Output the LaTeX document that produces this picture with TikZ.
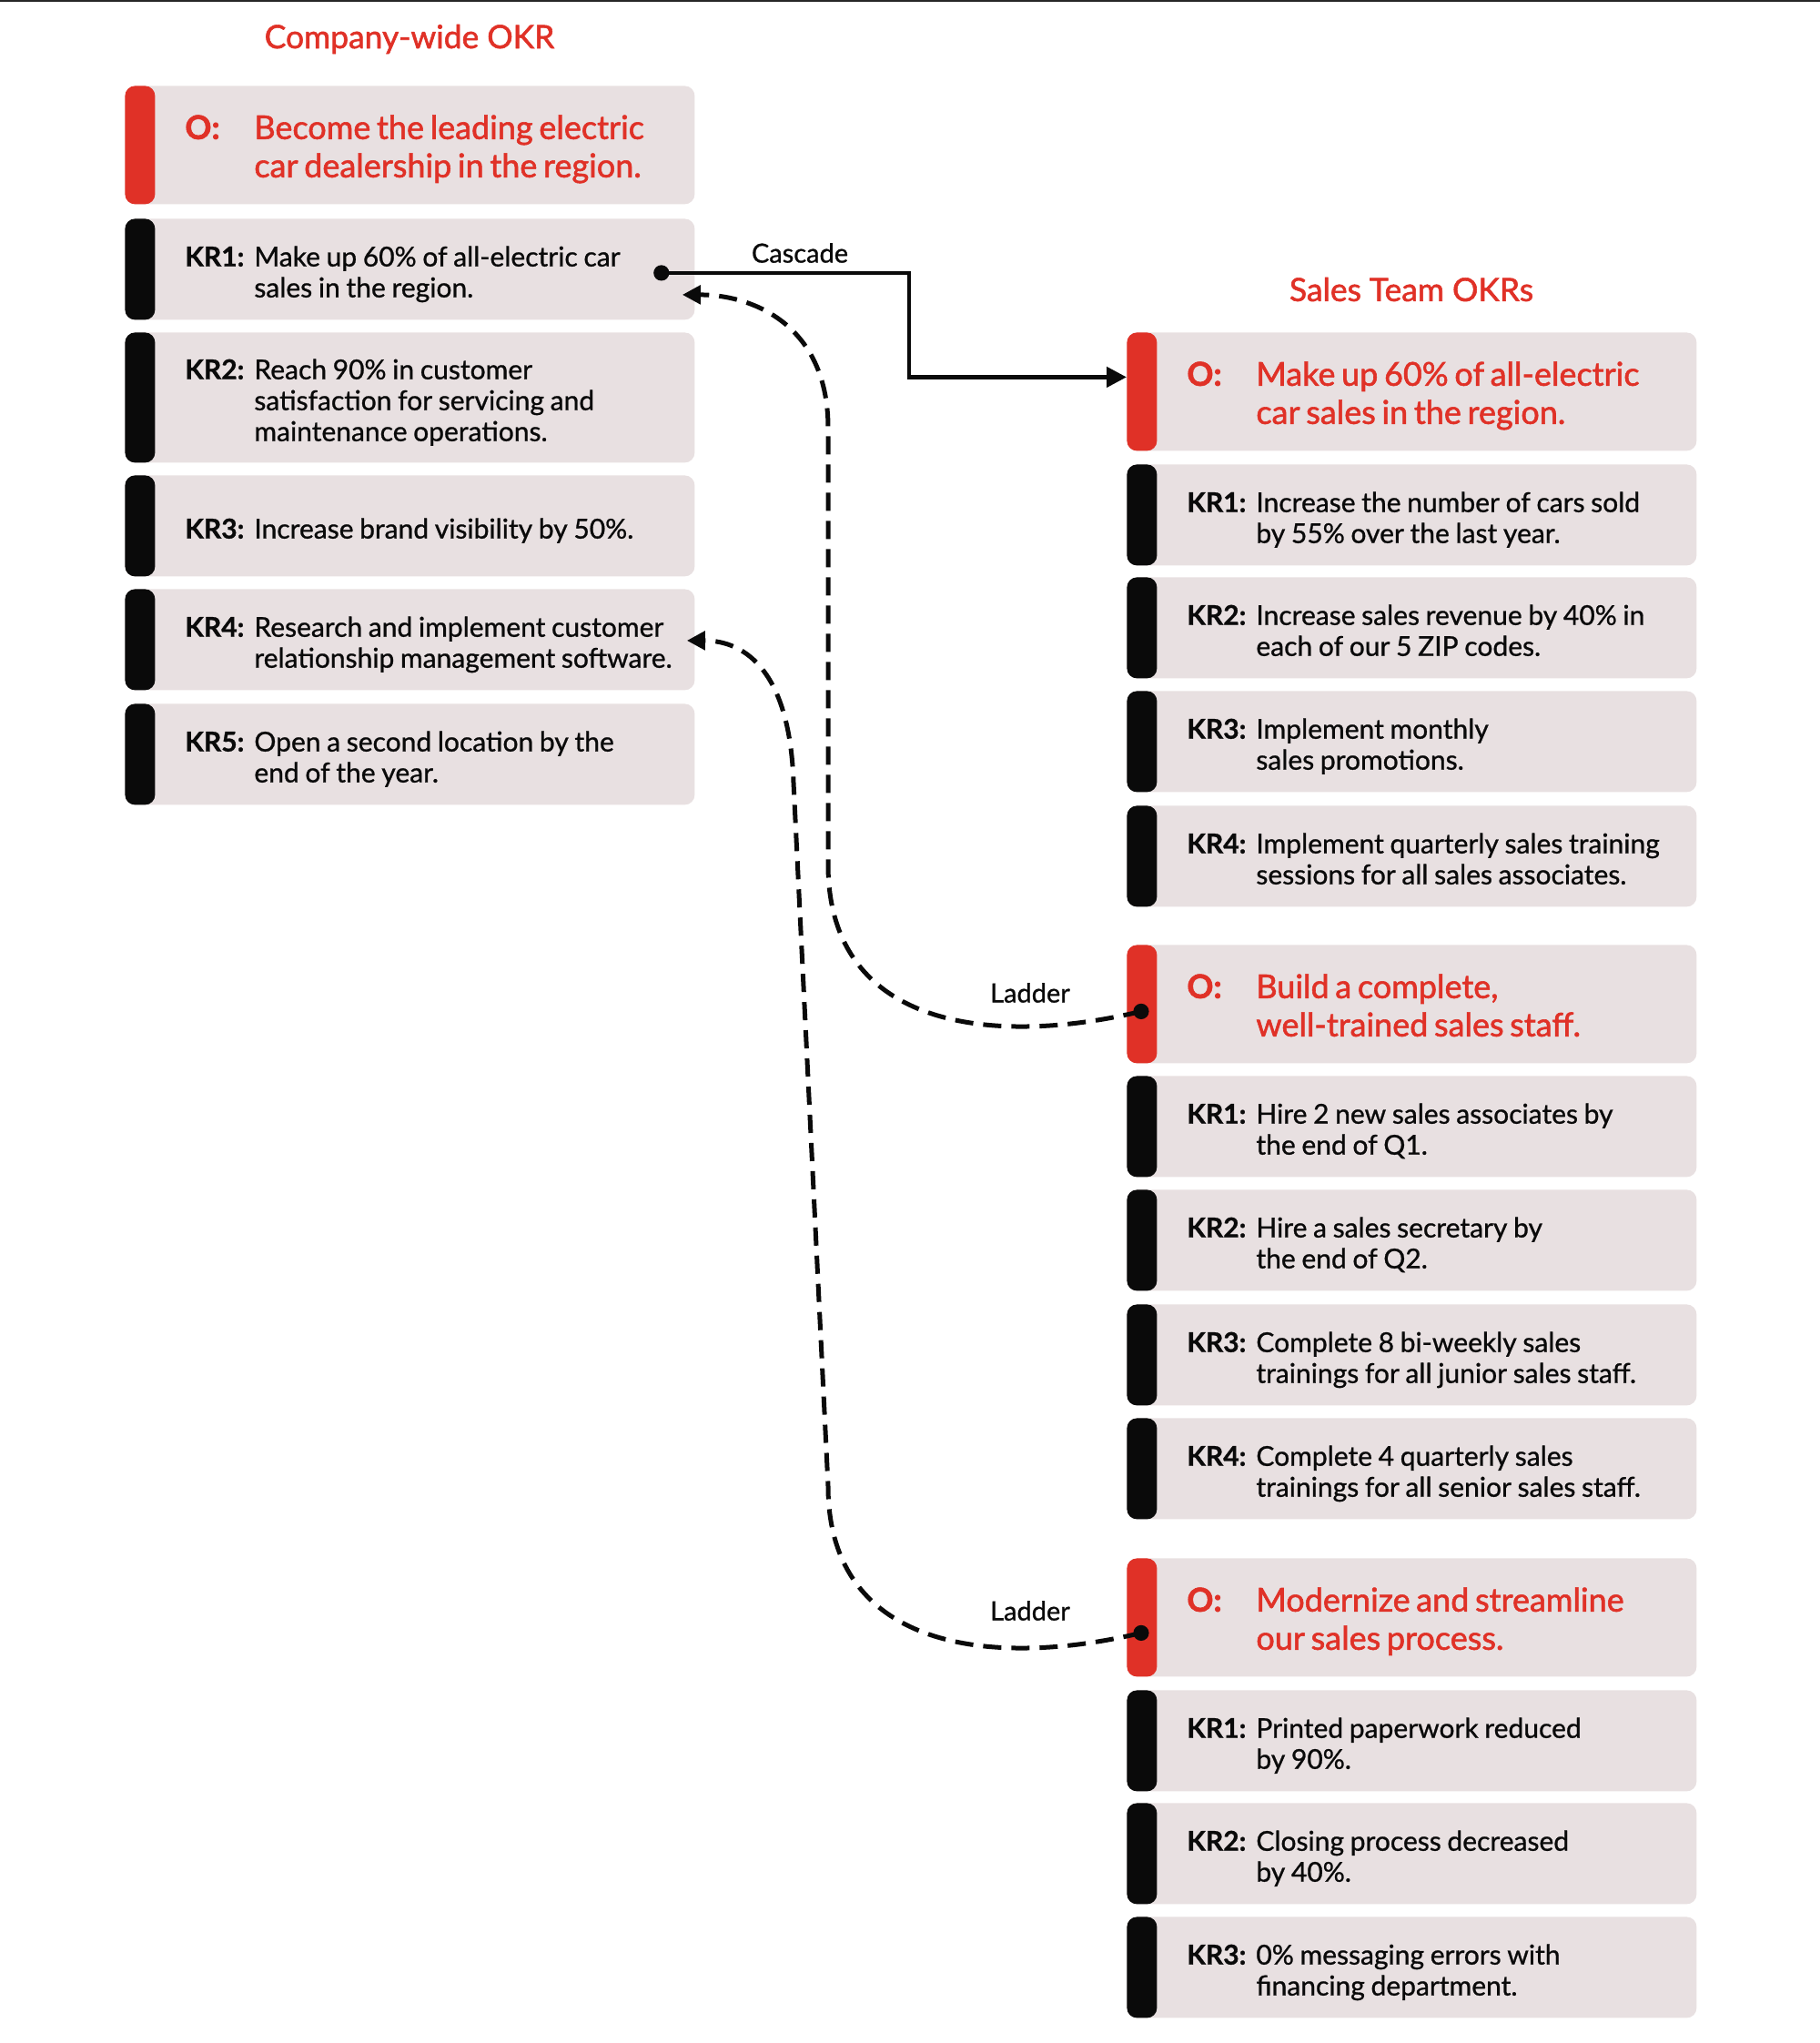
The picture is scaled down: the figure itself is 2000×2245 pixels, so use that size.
\documentclass[tikz,border=0pt]{standalone}
\usepackage{fontspec}
\setmainfont{Lato}[RawFeature={embolden=0.9}]
\newfontfamily\headfont{Lato}[RawFeature={embolden=1.6}]
\usepackage{xcolor}
\usetikzlibrary{arrows.meta,positioning,calc}
\definecolor{okrred}{RGB}{224,49,39}
\definecolor{okrgray}{RGB}{232,224,225}
\definecolor{okrblack}{RGB}{10,10,10}
\newcommand\krtext[2]{\fontsize{15}{17}\selectfont\raisebox{-3.5pt}[\height][\depth]{\makebox[38pt][l]{\bfseries #1:}\begin{tabular}[t]{@{}l@{}}#2\end{tabular}}}
\newcommand\otext[1]{\headfont\fontsize{18}{21}\selectfont\color{okrred}\raisebox{-3pt}[\height][\depth]{\makebox[38pt][l]{\bfseries O:}\begin{tabular}[t]{@{}l@{}}#1\end{tabular}}}
\tikzset{
  card/.style={rectangle, rounded corners=5.5pt, fill=okrgray, anchor=north west,
    minimum width=313pt, text width=247pt, inner xsep=33pt, inner ysep=0pt, align=left,
    path picture={\fill[#1] (path picture bounding box.north west) rectangle
      ([xshift=16.5pt]path picture bounding box.south west);}},
  objcard/.style={card=okrred, minimum height=65pt},
  krcard/.style={card=okrblack, minimum height=55.5pt, text=okrblack},
  heading/.style={text=okrred, font=\headfont\fontsize{17.7}{20}\selectfont},
  linklabel/.style={font=\fontsize{14.5}{17}\selectfont, text=okrblack},
  cascade/.style={line width=2.3pt, okrblack, -{Triangle[length=11pt,width=11pt]}},
  ladder/.style={line width=2.5pt, okrblack, dash pattern=on 10pt off 5.5pt,
    -{Triangle[length=10pt,width=10pt]}}
}
\begin{document}
\begin{tikzpicture}[x=0.5pt,y=-0.5pt]
\useasboundingbox (0,0) rectangle (2000,2245);
\draw[line width=1pt, black!85] (0,1)--(2000,1);
% company-wide
\node[heading] (cotitle) at (450,43) {Company-wide OKR};
\node[objcard] (co) at (137,94) {\otext{Become the leading electric\\car dealership in the region.}};
\node[krcard] (ckr1) at (137,240) {\krtext{KR1}{Make up 60\% of all-electric car\\sales in the region.}};
\node[krcard, minimum height=71.5pt] (ckr2) at (137,365) {\krtext{KR2}{Reach 90\% in customer\\satisfaction for servicing and\\maintenance operations.}};
\node[krcard] (ckr3) at (137,522) {\krtext{KR3}{Increase brand visibility by 50\%.}};
\node[krcard] (ckr4) at (137,647) {\krtext{KR4}{Research and implement customer\\relationship management software.}};
\node[krcard] (ckr5) at (137,773) {\krtext{KR5}{Open a second location by the\\end of the year.}};
% sales team
\node[heading] (stitle) at (1551,318) {Sales Team OKRs};
\node[objcard] (so1) at (1238,365) {\otext{Make up 60\% of all-electric\\car sales in the region.}};
\node[krcard] (s1kr1) at (1238,510) {\krtext{KR1}{Increase the number of cars sold\\by 55\% over the last year.}};
\node[krcard] (s1kr2) at (1238,634) {\krtext{KR2}{Increase sales revenue by 40\% in\\each of our 5 ZIP codes.}};
\node[krcard] (s1kr3) at (1238,759) {\krtext{KR3}{Implement monthly\\sales promotions.}};
\node[krcard] (s1kr4) at (1238,885) {\krtext{KR4}{Implement quarterly sales training\\sessions for all sales associates.}};
\node[objcard] (so2) at (1238,1038) {\otext{Build a complete,\\well-trained sales staff.}};
\node[krcard] (s2kr1) at (1238,1182) {\krtext{KR1}{Hire 2 new sales associates by\\the end of Q1.}};
\node[krcard] (s2kr2) at (1238,1307) {\krtext{KR2}{Hire a sales secretary by\\the end of Q2.}};
\node[krcard] (s2kr3) at (1238,1433) {\krtext{KR3}{Complete 8 bi-weekly sales\\trainings for all junior sales staff.}};
\node[krcard] (s2kr4) at (1238,1558) {\krtext{KR4}{Complete 4 quarterly sales\\trainings for all senior sales staff.}};
\node[objcard] (so3) at (1238,1712) {\otext{Modernize and streamline\\our sales process.}};
\node[krcard] (s3kr1) at (1238,1857) {\krtext{KR1}{Printed paperwork reduced\\by 90\%.}};
\node[krcard] (s3kr2) at (1238,1981) {\krtext{KR2}{Closing process decreased\\by 40\%.}};
\node[krcard] (s3kr3) at (1238,2106) {\krtext{KR3}{0\% messaging errors with\\financing department.}};
% link ends
\coordinate (cascfrom) at ([shift={(-37,4)}]ckr1.east);
\coordinate (cascto) at ([yshift=8pt]so1.west);
\coordinate (l1from) at ([shift={(16,8)}]so2.west);
\coordinate (l1to) at ([shift={(-14,28)}]ckr1.east);
\coordinate (l2from) at ([shift={(16,17)}]so3.west);
\coordinate (l2to) at ([shift={(-9,1)}]ckr4.east);
% cascade
\draw[cascade] (cascfrom) -| ([xshift=-119.5pt]cascto) -- (cascto);
\fill[okrblack] (cascfrom) circle (4.3pt);
\node[linklabel] (casclabel) at (879,278) {Cascade};
% ladders
\draw[ladder] (l1from) .. controls +(-164,39) and +(0,180) .. (910,950) -- (910,470)
  .. controls +(0,-110) and +(81,0) .. (l1to);
\draw[ladder] (l2from) .. controls +(-164,39) and +(0,180) .. (910,1633) -- (872,860)
  .. controls +(-4,-120) and +(66,0) .. (l2to);
\fill[okrblack] (l1from) circle (4.3pt);
\fill[okrblack] (l2from) circle (4.3pt);
\node[linklabel] (lad1label) at (1132,1091) {Ladder};
\node[linklabel] (lad2label) at (1132,1770) {Ladder};
\end{tikzpicture}
\end{document}
